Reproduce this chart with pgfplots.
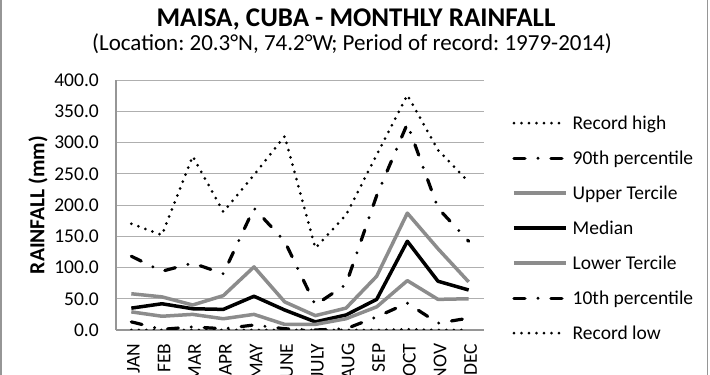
\documentclass[border=0pt]{standalone}
\usepackage{fontspec}
\setmainfont{Carlito}
\usepackage{pgfplots}
\usepackage{pgfplotstable}
\pgfplotsset{compat=1.18}
\frenchspacing
\definecolor{terc}{RGB}{140,140,140}
\definecolor{gridc}{RGB}{175,175,175}
\definecolor{axc}{RGB}{150,150,150}
\newcommand\f{\fontsize{19.5bp}{23bp}\selectfont}
\pgfplotstableread{
m rh p90 ut med lt p10 rl
0 170 118 58 35 29 13 0
1 152 94 53 42 22 1 0
2 278 107 40 34 25 5 0
3 189 90 55 33 18 2 0
4 248 195 101 54 25 8 0
5 310 142 45 32 9 2 0
6 131 40 23 13 9 0 0
7 184 73 35 24 18 2 0
8 280 215 86 49 37 21 0
9 376 330 187 142 79 43 1
10 288 195 130 78 49 11 0
11 237 142 77 64 50 19 0
}\data
\begin{document}
\begin{tikzpicture}
\begin{axis}[
  at={(116bp,45bp)}, anchor=south west,
  scale only axis, width=368bp, height=250bp,
  xmin=-0.5, xmax=11.5, ymin=0, ymax=400,
  xtick={0,...,11},
  xticklabels={JAN,FEB,MAR,APR,MAY,JUNE,JULY,AUG,SEP,OCT,NOV,DEC},
  ytick={0,50,...,400},
  yticklabel={\pgfmathprintnumber[fixed,fixed zerofill,precision=1]{\tick}},
  /pgf/number format/assume math mode=true,
  major tick length=0pt,
  axis x line*=bottom, axis y line*=left,
  axis line style={draw=axc, line width=1.2bp, -},
  ymajorgrids, grid style={draw=gridc, line width=1bp},
  yticklabel style={font=\f, anchor=east, inner sep=0pt, xshift=-17bp},
  xticklabel style={font=\f, yshift=-13.5bp, xshift=2bp, rotate=90, anchor=east, inner sep=0pt},
  ylabel={RAINFALL (mm)},
  ylabel style={font=\fontsize{21.5bp}{25bp}\selectfont\bfseries, at={(axis description cs:-0.212,0.5)}, anchor=center, rotate=0},
  legend image code/.code={\draw[#1] (0bp,0bp) -- (52bp,0bp);},
  legend style={draw=none, fill=none, at={(1.068,0.906)}, anchor=north west,
    font=\f, row sep=0pt, column sep=5bp,
    nodes={inner sep=0pt, minimum height=35bp}},
  legend cell align=left,
  every axis plot/.append style={line join=round},
]
\addplot[black, line width=3bp, line cap=round, dash pattern=on 0bp off 7.5bp] table[x=m,y=rh]{\data};
\addlegendentry{Record high}
\addplot[black, line width=3.2bp, line cap=round, dash pattern=on 11bp off 13bp on 0bp off 13bp] table[x=m,y=p90]{\data};
\addlegendentry{90th percentile}
\addplot[terc, line width=3.5bp] table[x=m,y=ut]{\data};
\addlegendentry{Upper Tercile}
\addplot[black, line width=3.5bp] table[x=m,y=med]{\data};
\addlegendentry{Median}
\addplot[terc, line width=3.5bp] table[x=m,y=lt]{\data};
\addlegendentry{Lower Tercile}
\addplot[black, line width=3.2bp, line cap=round, dash pattern=on 11bp off 13bp on 0bp off 13bp] table[x=m,y=p10]{\data};
\addlegendentry{10th percentile}
\addplot[black, line width=3bp, line cap=round, dash pattern=on 0bp off 7.5bp] table[x=m,y=rl]{\data};
\addlegendentry{Record low}
\end{axis}
\node[font=\fontsize{27bp}{31bp}\selectfont\bfseries, anchor=base] at (356bp,348bp) {MAISA, CUBA - MONTHLY RAINFALL};
\node[font=\fontsize{23bp}{27bp}\selectfont, anchor=base] at (352bp,324bp) {(Location: 20.3°N, 74.2°W; Period of record: 1979-2014)};
\draw[axc, line width=1.5bp] (0.75bp,0bp) -- (0.75bp,375bp);
\draw[axc, line width=1.5bp] (707.5bp,0bp) -- (707.5bp,375bp);
\pgfresetboundingbox
\useasboundingbox (0bp,0bp) rectangle (710bp,375bp);
\end{tikzpicture}
\end{document}
